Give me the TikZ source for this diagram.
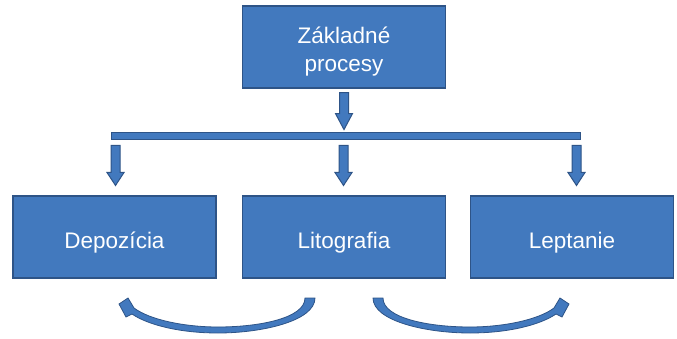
\documentclass[tikz,border=0pt]{standalone}
\usepackage{fontspec}
\setmainfont{Liberation Sans}
\usetikzlibrary{calc}
\definecolor{boxfill}{RGB}{66,121,190}
\definecolor{boxline}{RGB}{46,84,135}
\tikzset{
  procbox/.style={draw=boxline, line width=1.2pt, fill=boxfill, text=white,
    minimum width=203pt, minimum height=82pt, align=center, inner sep=0pt,
    font=\fontsize{22.5}{28.5}\selectfont},
  stepline/.style={text height=22pt, text depth=0pt},
  blockshape/.style={draw=boxline, line width=1pt, fill=boxfill, line join=miter},
  % straight block arrow pointing down: total length, length before the head
  pics/downarrow/.style 2 args={code={
    \path[blockshape] (-4.5,0) -- (4.5,0) -- (4.5,#2) -- (8.5,#2) -- (0,#1)
      -- (-8.5,#2) -- (-4.5,#2) -- cycle;}},
  % curved block arrow, tail on the right, head on the left
  pics/curvearrow/.style={code={
    \path[blockshape, line width=0.8pt]
      (-39,298) -- (-29,298)
      .. controls (-29,321) and (-82,333) .. (-126,333)
      .. controls (-164,333) and (-196,325) .. (-212,314)
      -- (-218,317) -- (-225,304) -- (-216,298) -- (-210,308)
      .. controls (-194,320) and (-159,327) .. (-126,327)
      .. controls (-84,327) and (-39,318) .. (-39,298) -- cycle;}}
}
\begin{document}
\begin{tikzpicture}[x=1pt, y=-1pt]
  \useasboundingbox (0,0) rectangle (677,339);

  % process boxes
  \node[procbox] (top) at (344,47) {\rule{0pt}{26pt}Základné\\procesy};
  \node[procbox, stepline] (dep) at (114.5,237) {Depozícia};
  \node[procbox, stepline] (lit) at (344,237) {Litografia};
  \node[procbox, stepline] (lep) at (572,237) {Leptanie};

  % distribution bar
  \node[blockshape, minimum width=469pt, minimum height=7pt, inner sep=0pt]
    (bar) at (345.5,136.5) {};

  % block arrows
  \pic at ($(top.south)+(0,4)$) {downarrow={37}{21}};
  \pic at ($(bar.south west)+(5,5)$) {downarrow={40}{27}};
  \pic at ($(bar.south)+(-2,5)$) {downarrow={40}{27}};
  \pic at ($(bar.south east)+(-4,5)$) {downarrow={40}{27}};

  % curved arrows below the boxes
  \coordinate (mid) at (lit.center |- 0,0);
  \pic at (mid) {curvearrow};
  \pic[xscale=-1] at (mid) {curvearrow};
\end{tikzpicture}
\end{document}
